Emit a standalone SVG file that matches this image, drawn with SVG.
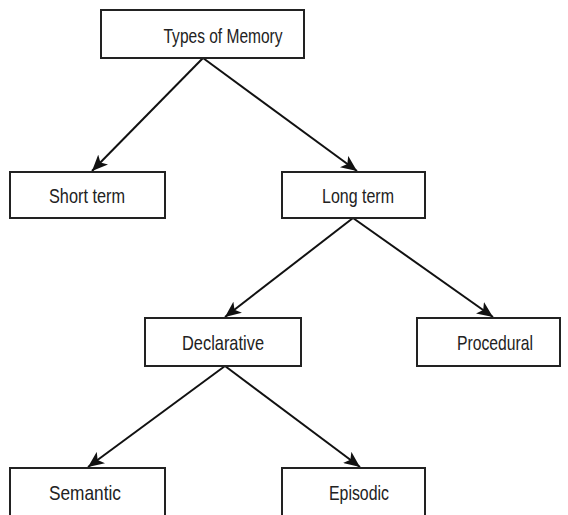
<svg xmlns="http://www.w3.org/2000/svg" width="568" height="515" viewBox="0 0 568 515">
<defs>
<marker id="ah" markerUnits="userSpaceOnUse" markerWidth="18" markerHeight="14" refX="16" refY="7" orient="auto">
<path d="M0,0 L16,7 L0,14 L4,7 Z" fill="#111"/>
</marker>
<style>
.box{fill:#fff;stroke:#222;stroke-width:2}
.lbl{font-family:"Liberation Sans",Arial,sans-serif;font-size:21px;fill:#222;text-anchor:middle}
.edge{stroke:#111;stroke-width:2;fill:none;marker-end:url(#ah)}
</style>
</defs>
<rect width="568" height="515" fill="#fff"/>
<g id="connectors">
<line class="edge" x1="203" y1="58" x2="92" y2="171"/>
<line class="edge" x1="203" y1="58" x2="357" y2="171"/>
<line class="edge" x1="353" y1="218" x2="225" y2="317"/>
<line class="edge" x1="353" y1="218" x2="493" y2="317"/>
<line class="edge" x1="225" y1="366" x2="88" y2="467"/>
<line class="edge" x1="225" y1="366" x2="360" y2="467"/>
</g>
<g id="types">
<rect class="box" x="101" y="10" width="203" height="48"/>
<text class="lbl" x="223" y="43" textLength="119" lengthAdjust="spacingAndGlyphs">Types of Memory</text>
</g>
<g id="short">
<rect class="box" x="10" y="172" width="155" height="46"/>
<text class="lbl" x="87" y="203" textLength="76" lengthAdjust="spacingAndGlyphs">Short term</text>
</g>
<g id="long">
<rect class="box" x="282" y="172" width="143" height="46"/>
<text class="lbl" x="358" y="203" textLength="72" lengthAdjust="spacingAndGlyphs">Long term</text>
</g>
<g id="declarative">
<rect class="box" x="145" y="318" width="156" height="48"/>
<text class="lbl" x="223" y="350" textLength="82" lengthAdjust="spacingAndGlyphs">Declarative</text>
</g>
<g id="procedural">
<rect class="box" x="417" y="318" width="143" height="48"/>
<text class="lbl" x="495" y="350" textLength="76" lengthAdjust="spacingAndGlyphs">Procedural</text>
</g>
<g id="semantic">
<rect class="box" x="10" y="468" width="155" height="60"/>
<text class="lbl" x="85" y="500" textLength="72" lengthAdjust="spacingAndGlyphs">Semantic</text>
</g>
<g id="episodic">
<rect class="box" x="282" y="468" width="143" height="60"/>
<text class="lbl" x="359" y="500" textLength="60" lengthAdjust="spacingAndGlyphs">Episodic</text>
</g>
</svg>
